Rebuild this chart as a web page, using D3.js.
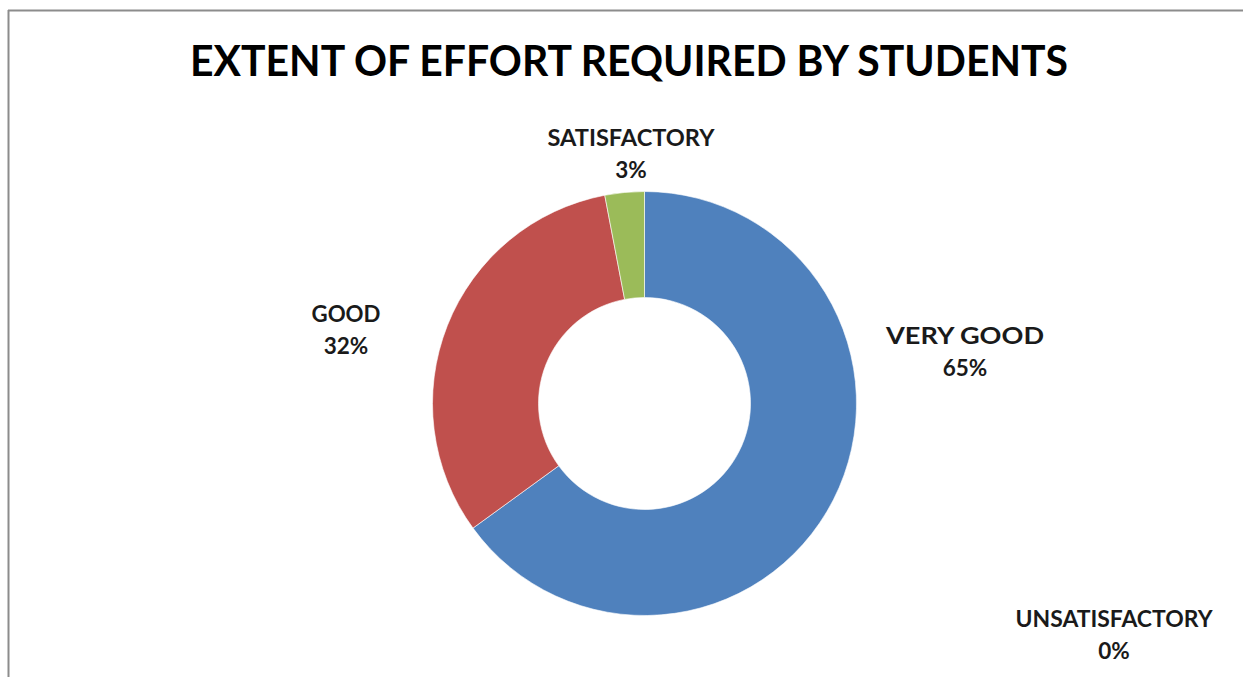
<!DOCTYPE html>
<html>
<head>
<meta charset="utf-8">
<script src="https://cdn.jsdelivr.net/npm/d3@7"></script>
<style>
  html, body { margin: 0; padding: 0; background: #fff; }
  svg { display: block; }
</style>
</head>
<body>
<svg id="chart" width="1243" height="677"></svg>
<script>
// ---- data ----
const categories = ["VERY GOOD", "UNSATISFACTORY", "GOOD", "SATISFACTORY"];
const values = [65, 0, 32, 3];
const percentLabels = ["65%", "0%", "32%", "3%"];
const colors = ["#4F81BD", "#8064A2", "#C0504D", "#9BBB59"];
const title = "EXTENT OF EFFORT REQUIRED BY STUDENTS";

// ---- layout ----
const W = 1243, H = 677;
const cx = 644.5, cy = 403.5, rOuter = 212, rInner = 106;
// label anchors (layout, not data)
const labelPos = {
  "VERY GOOD": [965, 344, 158],
  "UNSATISFACTORY": [1114, 627, 197],
  "GOOD": [346, 322, 69],
  "SATISFACTORY": [631, 146, 167]
};
const font = "Lato, 'Open Sans', sans-serif";

const svg = d3.select("#chart");

// frame
svg.append("line").attr("x1", 8).attr("x2", W).attr("y1", 10.5).attr("y2", 10.5)
  .attr("stroke", "#8c8c8c").attr("stroke-width", 2);
svg.append("line").attr("x1", 8.5).attr("x2", 8.5).attr("y1", 10).attr("y2", H)
  .attr("stroke", "#8c8c8c").attr("stroke-width", 2);

// title
svg.append("text")
  .attr("x", 629).attr("y", 76)
  .attr("text-anchor", "middle")
  .attr("font-family", font).attr("font-weight", 700)
  .attr("font-size", 42).attr("fill", "#000")
  .attr("textLength", 878).attr("lengthAdjust", "spacingAndGlyphs")
  .text(title);

const data = categories.map((c, i) => ({ name: c, value: values[i], pct: percentLabels[i], color: colors[i] }));

const pie = d3.pie().value(d => d.value).sort(null);
const arc = d3.arc().innerRadius(rInner).outerRadius(rOuter);

const g = svg.append("g").attr("transform", `translate(${cx},${cy})`);
g.selectAll("path").data(pie(data)).enter().append("path")
  .attr("d", arc)
  .attr("fill", d => d.data.color)
  .attr("stroke", d => d.data.value > 0 ? "#ffffff" : "none")
  .attr("stroke-width", 0.6);

// labels
const lab = svg.append("g");
data.forEach(d => {
  const [x, y, w] = labelPos[d.name];
  lab.append("text")
    .attr("x", x).attr("y", y)
    .attr("text-anchor", "middle")
    .attr("font-family", font).attr("font-weight", 700)
    .attr("font-size", 22.5).attr("fill", "#1a1a1a")
    .attr("textLength", w).attr("lengthAdjust", "spacingAndGlyphs")
    .text(d.name);
  lab.append("text")
    .attr("x", x).attr("y", y + 32)
    .attr("text-anchor", "middle")
    .attr("font-family", font).attr("font-weight", 700)
    .attr("font-size", 22.5).attr("fill", "#1a1a1a")
    .text(d.pct);
});
</script>
</body>
</html>
